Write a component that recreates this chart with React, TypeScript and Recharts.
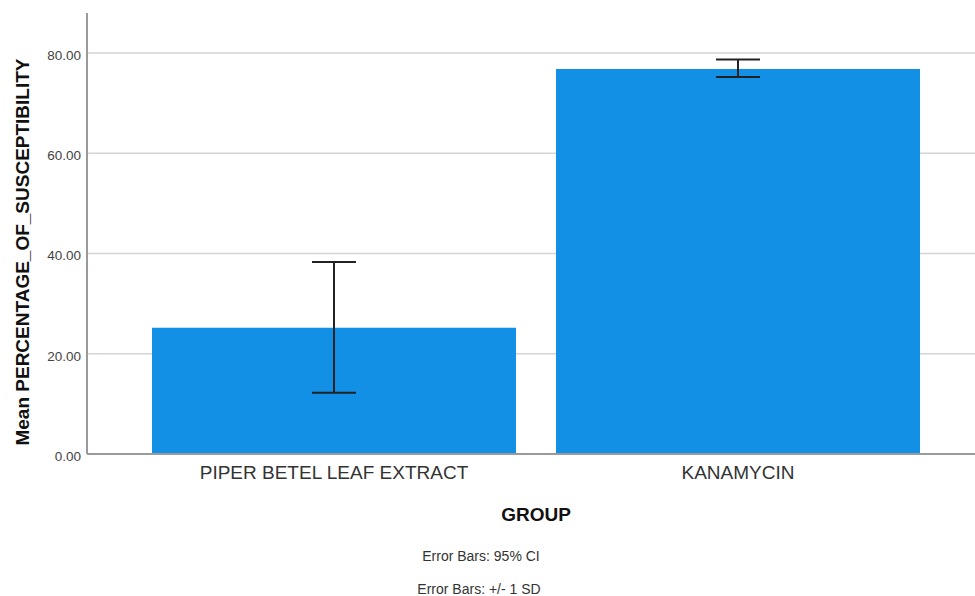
import React from 'react';
import { BarChart, Bar, XAxis, YAxis, CartesianGrid, ErrorBar } from 'recharts';

// groups and measured means
const groups = ['PIPER BETEL LEAF EXTRACT', 'KANAMYCIN'];
const means = [25.2, 76.85];
// lower / upper ends of the error bars
const lowerEnds = [12.2, 75.25];
const upperEnds = [38.3, 78.7];
const yTicks = [0, 20, 40, 60, 80];

const data = groups.map((g, i) => ({
  name: g,
  mean: means[i],
  err: [means[i] - lowerEnds[i], upperEnds[i] - means[i]],
}));

const font = '"Liberation Sans", Arial, sans-serif';

export default function App() {
  return (
    <div style={{ position: 'absolute', left: 0, top: 0, width: 975, height: 596, background: '#fff', fontFamily: font, overflow: 'hidden' }}>
      <BarChart
        width={975}
        height={596}
        data={data}
        margin={{ top: 13, right: 0, left: 27, bottom: 112 }}
        barCategoryGap={20}
      >
        <CartesianGrid
          horizontal
          vertical={false}
          stroke="#d4d4d4"
          strokeWidth={1.5}
          horizontalValues={yTicks}
        />
        <XAxis
          dataKey="name"
          height={30}
          padding={{ left: 45, right: 35 }}
          axisLine={{ stroke: '#9a9a9a', strokeWidth: 2 }}
          tickLine={false}
          tickMargin={6}
          tick={{ fill: '#333', fontSize: 19, fontFamily: font }}
        />
        <YAxis
          width={60}
          domain={[0, 88]}
          ticks={yTicks}
          tickFormatter={(v: number) => v.toFixed(2)}
          axisLine={{ stroke: '#9a9a9a', strokeWidth: 2 }}
          tickLine={false}
          tickSize={4}
          tick={{ fill: '#444', fontSize: 13.5, fontFamily: font, dy: 2 }}
        />
        <Bar dataKey="mean" fill="#1290e6" isAnimationActive={false}>
          <ErrorBar dataKey="err" width={22} stroke="#222" strokeWidth={2} direction="y" />
        </Bar>
      </BarChart>
      <div
        style={{
          position: 'absolute', left: 23, top: 252, width: 420, marginLeft: -210, marginTop: -11, height: 22, lineHeight: '22px',
          transform: 'rotate(-90deg)', textAlign: 'center', fontSize: 19, fontWeight: 'bold', color: '#111', whiteSpace: 'nowrap',
        }}
      >
        Mean PERCENTAGE_OF_SUSCEPTIBILITY
      </div>
      <div style={{ position: 'absolute', left: 0, width: 1072, top: 503, textAlign: 'center', fontSize: 19, fontWeight: 'bold', color: '#111', lineHeight: '24px' }}>
        GROUP
      </div>
      <div style={{ position: 'absolute', left: 0, width: 962, top: 548, textAlign: 'center', fontSize: 14, color: '#333', lineHeight: '16px' }}>
        Error Bars: 95% CI
      </div>
      <div style={{ position: 'absolute', left: 0, width: 958, top: 582, textAlign: 'center', fontSize: 14, color: '#333', lineHeight: '14px' }}>
        Error Bars: +/- 1 SD
      </div>
    </div>
  );
}
